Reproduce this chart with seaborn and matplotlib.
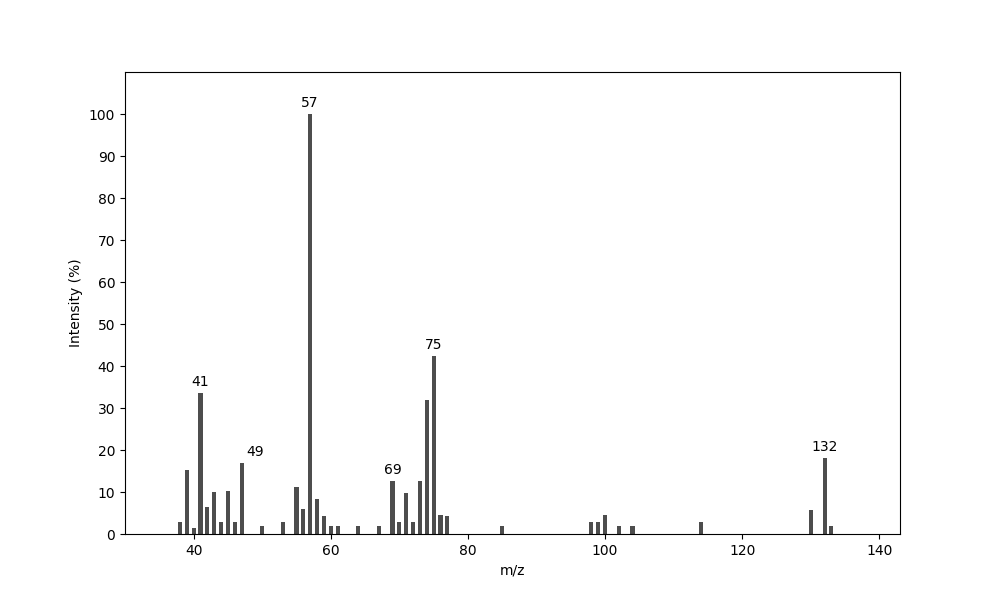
import pandas as pd
import matplotlib
matplotlib.use("Agg")
import matplotlib.pyplot as plt
import seaborn as sns

# peaks
mz = [38, 39, 40, 41, 42, 43, 44, 45, 46, 47, 50, 53, 55, 56, 57, 58, 59, 60, 61,
      64, 67, 69, 70, 71, 72, 73, 74, 75, 76, 77, 85,
      98, 99, 100, 102, 104, 114, 130, 132, 133]
intensity = [2.9, 15.3, 1.5, 33.5, 6.5, 9.9, 2.9, 10.3, 2.9, 16.8, 2.0, 2.9, 11.3, 6.0, 100.0, 8.4, 4.4, 2.0, 2.0,
             2.0, 2.0, 12.6, 2.9, 9.8, 2.9, 12.6, 32.0, 42.3, 4.6, 4.3, 2.0,
             2.9, 2.9, 4.6, 2.0, 2.0, 2.9, 5.6, 18.1, 2.0]

# labelled peaks
label_mz = [41, 49, 57, 69, 75, 132]
label_int = [33.5, 16.8, 100.0, 12.6, 42.3, 18.1]

df = pd.DataFrame({"mz": mz, "intensity": intensity})

plt.rcdefaults()

fig, ax = plt.subplots(figsize=(10, 6), dpi=100)
sns.barplot(data=df, x="mz", y="intensity", native_scale=True, width=0.6,
            color="#4d4d4d", saturation=1, errorbar=None, linewidth=0, ax=ax)

# check real bar width
print([p.get_width() for p in ax.patches[:3]])

for m, h in zip(label_mz, label_int):
    ax.text(m, h + 1, str(m), ha="center", va="bottom", fontsize=10)

ax.set_xlim(30, 143)
ax.set_ylim(0, 110)
ax.set_yticks(range(0, 101, 10))
ax.set_xticks(range(40, 141, 20))
ax.set_xlabel("m/z")
ax.set_ylabel("Intensity (%)")

fig.savefig("out.png", dpi=100)
